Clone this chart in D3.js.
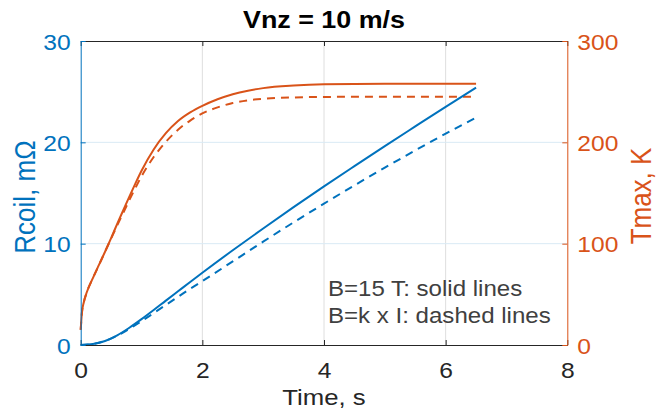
<!DOCTYPE html>
<html>
<head>
<meta charset="utf-8">
<script src="https://cdn.jsdelivr.net/npm/d3@7"></script>
<style>
  html, body { margin: 0; padding: 0; background: #fff; }
  svg { display: block; font-family: "Liberation Sans", Arial, sans-serif; }
</style>
</head>
<body>
<svg id="chart" width="658" height="415"></svg>
<script>
// ---- data ----
const timeR = [0, 0.2, 0.4, 0.6, 0.8, 1.0, 1.2, 1.4, 1.6, 1.8, 2.0, 2.5, 3.0, 3.5, 4.0, 4.5, 5.0, 5.5, 6.0, 6.5];
const rcoilSolid = [0, 0.1, 0.4, 0.95, 1.7, 2.55, 3.45, 4.38, 5.3, 6.22, 7.13, 9.35, 11.5, 13.6, 15.65, 17.65, 19.63, 21.57, 23.5, 25.4];
const rcoilDashed = [0, 0.1, 0.4, 0.92, 1.6, 2.35, 3.15, 3.95, 4.75, 5.55, 6.3, 8.25, 10.2, 12.1, 13.95, 15.75, 17.5, 19.2, 20.85, 22.45];

const timeT = [0, 0.02, 0.05, 0.1, 0.2, 0.3, 0.4, 0.5, 0.6, 0.7, 0.8, 0.9, 1.0, 1.2, 1.4, 1.6, 1.8, 2.0, 2.25, 2.5, 2.75, 3.0, 3.5, 4.0, 5.0, 6.0, 6.5];
const tmaxSolid = [15, 32, 42, 52, 66, 79, 92, 105.5, 119.5, 133, 146.5, 159.5, 172, 193, 209, 221, 229.5, 236, 242.5, 247.5, 251, 253.5, 256, 257.2, 257.7, 257.8, 257.8];
const tmaxDashed = [15, 32, 42, 52, 66, 79, 92, 105, 118, 130.5, 143, 155, 166.5, 185.5, 200.5, 212.5, 221.5, 228.5, 234.5, 238.8, 241.5, 243, 244.3, 244.8, 245, 245, 245];

const xTicks = [0, 2, 4, 6, 8];
const yLeftTicks = [0, 10, 20, 30];
const yRightTicks = [0, 100, 200, 300];

const title = "Vnz = 10 m/s";
const xLabel = "Time, s";
const yLeftLabel = "Rcoil, m\u03A9";
const yRightLabel = "Tmax, K";
const note1 = "B=15 T: solid lines";
const note2 = "B=k x I: dashed lines";

// ---- layout ----
const BLUE = "#0072BD", ORANGE = "#D95319", DARK = "#262626";
const L = 80.7, R = 567.3, T = 41, B = 345;
const svg = d3.select("#chart");

const x = d3.scaleLinear().domain([0, 8]).range([L, R]);
const yL = d3.scaleLinear().domain([0, 30]).range([B, T]);
const yR = d3.scaleLinear().domain([0, 300]).range([B, T]);

const SX = 1.12; // horizontal stretch of the reference text
function stretched(sel, ax, ay) {
  sel.attr("transform", `translate(${ax},${ay}) scale(${SX},1)`);
}

// grid
const g = svg.append("g");
g.selectAll("line.vg").data(xTicks.slice(1, -1)).enter().append("line")
  .attr("x1", d => x(d)).attr("x2", d => x(d)).attr("y1", T).attr("y2", B)
  .attr("stroke", "#dedede").attr("stroke-width", 1);
g.selectAll("line.hg").data(yLeftTicks.slice(1, -1)).enter().append("line")
  .attr("x1", L).attr("x2", R).attr("y1", d => yL(d)).attr("y2", d => yL(d))
  .attr("stroke", "#d9eaf5").attr("stroke-width", 1);

// lines
const lineR = (ys) => d3.line().x((d, i) => x(timeR[i])).y(d => yL(d)).curve(d3.curveMonotoneX)(ys);
const lineT = (ys) => d3.line().x((d, i) => x(timeT[i])).y(d => yR(d)).curve(d3.curveMonotoneX)(ys);

svg.append("path").attr("d", lineT(tmaxDashed)).attr("fill", "none").attr("stroke", ORANGE).attr("stroke-width", 2).attr("stroke-dasharray", "8,6");
svg.append("path").attr("d", lineT(tmaxSolid)).attr("fill", "none").attr("stroke", ORANGE).attr("stroke-width", 2);
svg.append("path").attr("d", lineR(rcoilDashed)).attr("fill", "none").attr("stroke", BLUE).attr("stroke-width", 2).attr("stroke-dasharray", "8,6");
svg.append("path").attr("d", lineR(rcoilSolid)).attr("fill", "none").attr("stroke", BLUE).attr("stroke-width", 2);

// axes (MATLAB style: ticks inward)
const axB = svg.append("g").attr("transform", `translate(0,${B})`)
  .call(d3.axisBottom(x).tickValues(xTicks).tickSizeInner(-5).tickSizeOuter(0).tickFormat(d3.format("d")));
axB.select(".domain").attr("stroke", DARK);
axB.selectAll(".tick line").attr("stroke", DARK);
axB.selectAll(".tick text").attr("fill", DARK).attr("font-size", 22).attr("dy", null).attr("y", 0)
  .each(function () { stretched(d3.select(this), 0, 33); });

const axT = svg.append("g").attr("transform", `translate(0,${T})`)
  .call(d3.axisTop(x).tickValues(xTicks).tickSizeInner(-5).tickSizeOuter(0).tickFormat(""));
axT.select(".domain").attr("stroke", DARK);
axT.selectAll(".tick line").attr("stroke", DARK);

const axL = svg.append("g").attr("transform", `translate(${L},0)`)
  .call(d3.axisLeft(yL).tickValues(yLeftTicks).tickSizeInner(-5).tickSizeOuter(0).tickFormat(d3.format("d")));
axL.select(".domain").attr("stroke", BLUE);
axL.selectAll(".tick line").attr("stroke", BLUE);
axL.selectAll(".tick text").attr("fill", BLUE).attr("font-size", 22).attr("x", 0).attr("dy", null)
  .each(function () { stretched(d3.select(this), -10, 8); });

const axR = svg.append("g").attr("transform", `translate(${R},0)`)
  .call(d3.axisRight(yR).tickValues(yRightTicks).tickSizeInner(-5).tickSizeOuter(0).tickFormat(d3.format("d")));
axR.select(".domain").attr("stroke", ORANGE);
axR.selectAll(".tick line").attr("stroke", ORANGE);
axR.selectAll(".tick text").attr("fill", ORANGE).attr("font-size", 22).attr("x", 0).attr("dy", null)
  .each(function () { stretched(d3.select(this), 10, 8); });

svg.selectAll(".tick text").attr("font-family", "Liberation Sans, Arial, sans-serif");

// title and labels
svg.append("text").text(title).attr("text-anchor", "middle").attr("font-weight", "bold")
  .attr("font-size", 24).attr("fill", "#000")
  .call(s => stretched(s, (L + R) / 2, 28));

svg.append("text").text(xLabel).attr("text-anchor", "middle").attr("font-size", 23).attr("fill", DARK)
  .call(s => stretched(s, (L + R) / 2, 405));

svg.append("text").text(yLeftLabel).attr("text-anchor", "middle").attr("font-size", 26).attr("fill", BLUE)
  .attr("transform", `translate(35,197) rotate(-90) scale(1,${SX})`);

svg.append("text").text(yRightLabel).attr("text-anchor", "middle").attr("font-size", 26).attr("fill", ORANGE)
  .attr("transform", `translate(651,196) rotate(-90) scale(1,${SX})`);

svg.append("text").text(note1).attr("font-size", 21.5).attr("fill", "#404040")
  .call(s => stretched(s, 328, 296));
svg.append("text").text(note2).attr("font-size", 21.5).attr("fill", "#404040")
  .call(s => stretched(s, 328, 323));
</script>
</body>
</html>
